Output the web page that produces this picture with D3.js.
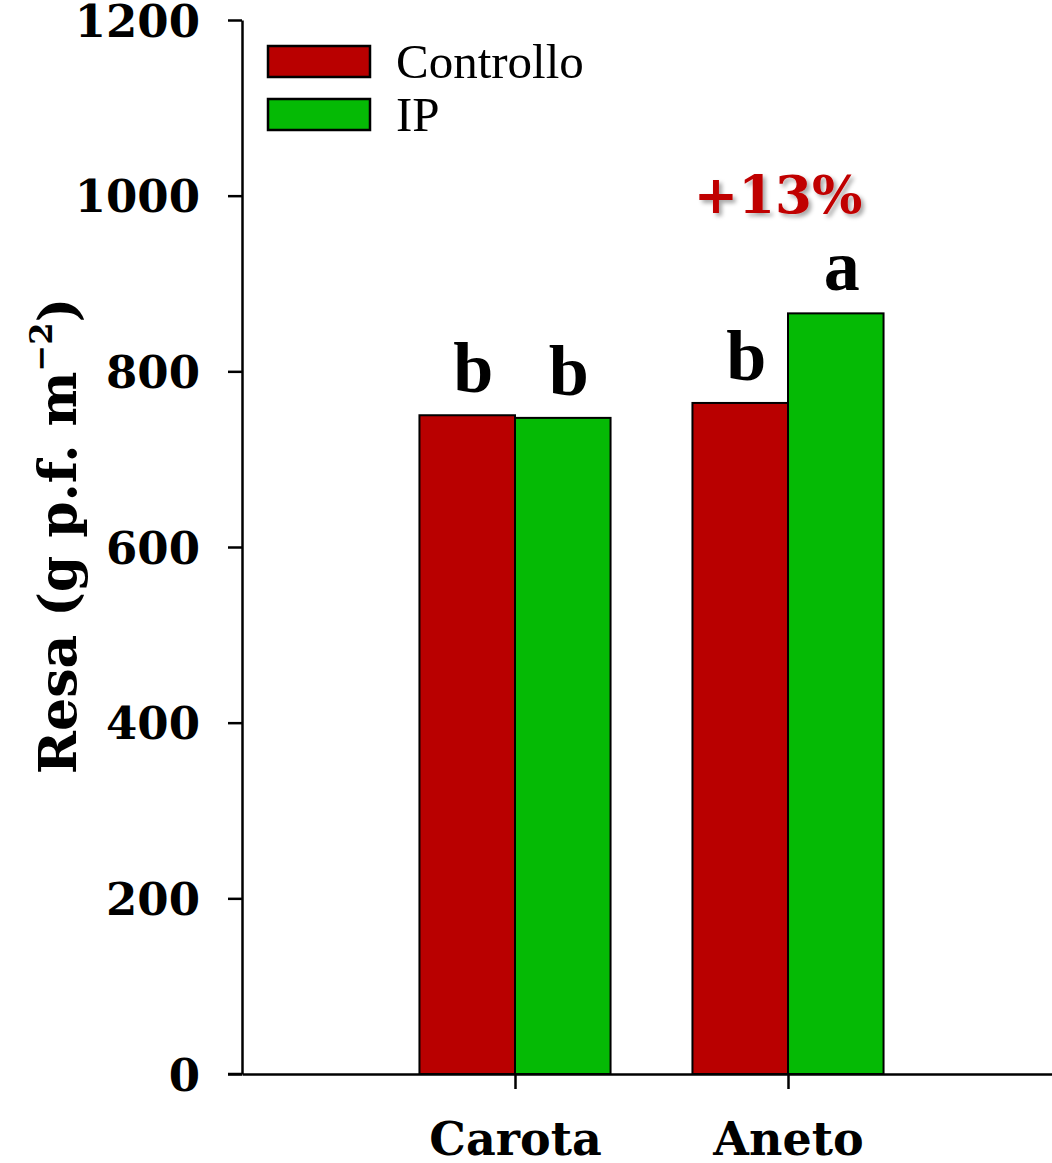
<!DOCTYPE html>
<html><head><meta charset="utf-8">
<script src="https://cdn.jsdelivr.net/npm/d3@7"></script>
<style>body{margin:0;background:#fff}svg{display:block}</style>
</head><body>
<svg id="c" width="1052" height="1163"></svg>
<script>
const categories = ["Carota", "Aneto"];
const seriesNames = ["Controllo", "IP"];
const controllo = [750, 764];
const ip = [747, 866];
const letterControllo = ["b", "b"];
const letterIP = ["b", "a"];
const yTicks = [0, 200, 400, 600, 800, 1000, 1200];
const colors = ["#b90000", "#05ba05"];
const annotation = "+13%";

const svg = d3.select("#c");
const x = d3.scaleLinear().domain([0, 3]).range([242, 1061]);
const y = d3.scaleLinear().domain([0, 1200]).range([1074, 20]);
const bw = 0.35;
const serifWide = "'DejaVu Serif', serif";
const times = "'Liberation Serif', 'Times New Roman', serif";

const series = [controllo, ip];
const letters = [letterControllo, letterIP];

// bars
series.forEach((vals, s) => {
  svg.append("g").selectAll("rect").data(vals).join("rect")
    .attr("x", (d, i) => x(i + 1 + (s - 1) * bw))
    .attr("width", x(bw) - x(0))
    .attr("y", d => y(d))
    .attr("height", d => y(0) - y(d))
    .attr("fill", colors[s]).attr("stroke", "#000").attr("stroke-width", 2);
  svg.append("g").selectAll("text").data(vals).join("text")
    .attr("x", (d, i) => x(i + 1 + (s - 0.5) * bw) + 6)
    .attr("y", d => y(d) - 23)
    .attr("text-anchor", "middle")
    .attr("font-family", times).attr("font-weight", "bold").attr("font-size", 72)
    .text((d, i) => letters[s][i]);
});

// y axis
const ya = svg.append("g").attr("transform", `translate(${x(0)},0)`)
  .call(d3.axisLeft(y).tickValues(yTicks).tickFormat(d3.format("d"))
    .tickSize(14).tickPadding(28).tickSizeOuter(0));
ya.select(".domain").attr("stroke-width", 2.5);
ya.selectAll(".tick line").attr("stroke-width", 2.5);
ya.selectAll(".tick text").attr("font-family", serifWide).attr("font-weight", "bold")
  .attr("font-size", 45).attr("fill", "#000").attr("dy", "0.36em");

// x axis
const xa = svg.append("g").attr("transform", `translate(0,${y(0)})`)
  .call(d3.axisBottom(x).tickValues([1, 2]).tickFormat((d) => categories[d - 1])
    .tickSize(15).tickPadding(31).tickSizeOuter(0));
xa.select(".domain").attr("stroke-width", 2.5);
xa.selectAll(".tick line").attr("stroke-width", 2.5);
xa.selectAll(".tick text").attr("font-family", serifWide).attr("font-weight", "bold")
  .attr("font-size", 46).attr("fill", "#000").attr("y", 81).attr("dy", 0);
svg.append("line").attr("x1", x(0) - 14).attr("x2", x(0)).attr("y1", y(0)).attr("y2", y(0))
  .attr("stroke", "#000").attr("stroke-width", 2.5);

// y title
const yt = svg.append("text")
  .attr("transform", `translate(76,${(297 + 775) / 2}) rotate(-90)`)
  .attr("text-anchor", "middle")
  .attr("font-family", serifWide).attr("font-weight", "bold").attr("font-size", 52);
yt.append("tspan").text("Resa (g p.f. m");
yt.append("tspan").attr("font-size", 32).attr("dy", -24).text("−2");
yt.append("tspan").attr("dy", 24).text(")");

// legend
const lg = svg.append("g");
seriesNames.forEach((n, i) => {
  lg.append("rect").attr("x", 268).attr("y", 46 + i * 53).attr("width", 102).attr("height", 31)
    .attr("fill", colors[i]).attr("stroke", "#000").attr("stroke-width", 2.5);
  lg.append("text").attr("x", 396).attr("y", 78 + i * 53)
    .attr("font-family", times).attr("font-size", 49).attr("fill", "#000").text(n);
});

// annotation
const defs = svg.append("defs");
const f = defs.append("filter").attr("id", "sh").attr("x", "-10%").attr("y", "-10%").attr("width", "130%").attr("height", "140%");
f.append("feDropShadow").attr("dx", 3).attr("dy", 3).attr("stdDeviation", 2).attr("flood-color", "#000").attr("flood-opacity", 0.35);
svg.append("text").attr("x", (x(2 - bw) + x(2 + bw)) / 2 - 10).attr("y", 213)
  .attr("text-anchor", "middle").attr("font-family", serifWide).attr("font-weight", "bold")
  .attr("font-size", 53).attr("fill", "#c00000").attr("filter", "url(#sh)").text(annotation);
</script>
</body></html>
